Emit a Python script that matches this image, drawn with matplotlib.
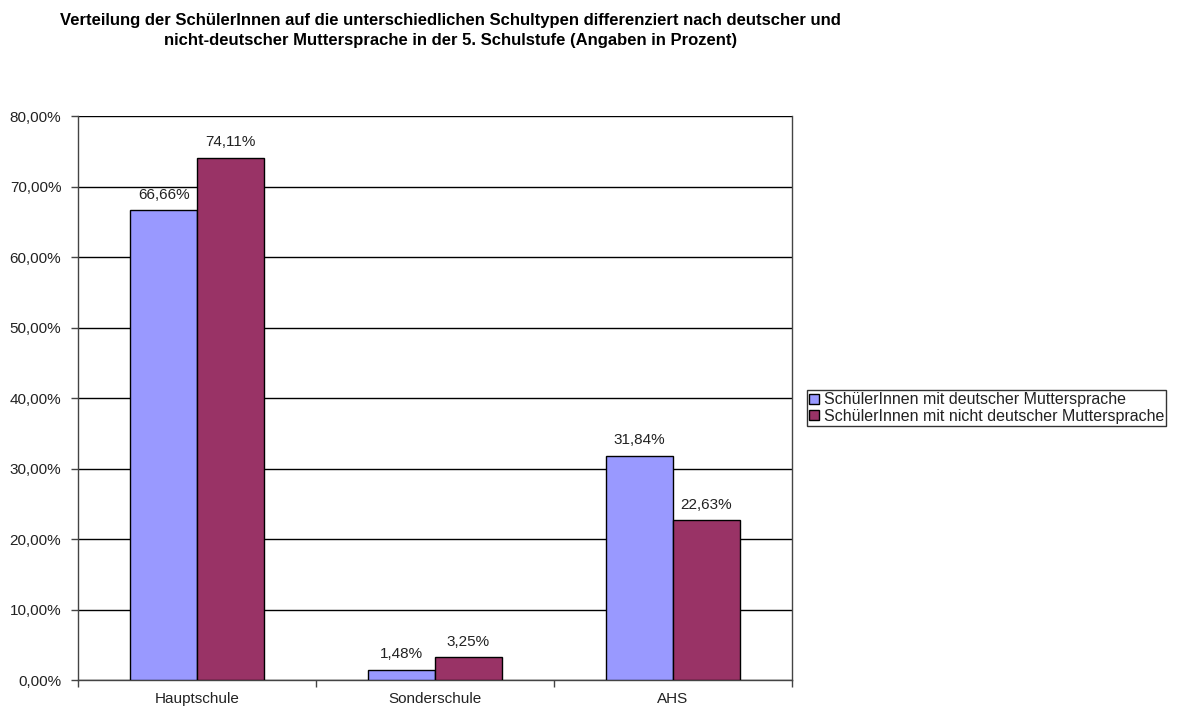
import numpy as np
import matplotlib
matplotlib.use("Agg")
import matplotlib.pyplot as plt
from matplotlib.ticker import FuncFormatter, FixedLocator

plt.rcParams["font.family"] = ["Liberation Sans", "DejaVu Sans"]

categories = ["Hauptschule", "Sonderschule", "AHS"]
series_names = ["SchülerInnen mit deutscher Muttersprache",
                "SchülerInnen mit nicht deutscher Muttersprache"]
deutsch = [66.66, 1.48, 31.84]
nicht_deutsch = [74.11, 3.25, 22.63]
colors = ["#9999ff", "#993366"]

title = ("Verteilung der SchülerInnen auf die unterschiedlichen Schultypen differenziert nach deutscher und\n"
         "nicht-deutscher Muttersprache in der 5. Schulstufe (Angaben in Prozent)")

FS = 11
TXT = "#222222"


def pct(v):
    return f"{v:.2f}%".replace(".", ",")


fig = plt.figure(figsize=(11.77, 7.11), dpi=100)
ax = fig.add_axes([0.0663, 0.0436, 0.6065, 0.7932])

x = np.arange(len(categories))
w = 0.28
for i, (vals, col) in enumerate(zip([deutsch, nicht_deutsch], colors)):
    pos = x + (i - 0.5) * w
    ax.bar(pos, vals, w, color=col, edgecolor="black", linewidth=1.0,
           label=series_names[i], zorder=3)
    for px, v in zip(pos, vals):
        ax.annotate(pct(v), (px, v), xytext=(0, 6), textcoords="offset points",
                    ha="center", va="bottom", fontsize=FS, color=TXT)

ax.set_xlim(-0.5, 2.5)
ax.set_ylim(0, 80)
ax.set_yticks(np.arange(0, 81, 10))
ax.yaxis.set_major_formatter(FuncFormatter(lambda v, _: pct(v)))
ax.yaxis.grid(True, color="black", linewidth=1.0, zorder=0)
ax.set_axisbelow(True)

# category names centred under groups, tick marks on the group boundaries
ax.set_xticks(x)
ax.set_xticklabels(categories, fontsize=FS, color=TXT)
ax.tick_params(axis="x", which="major", length=0, pad=8.5)
ax.xaxis.set_minor_locator(FixedLocator([-0.5, 0.5, 1.5, 2.5]))
ax.tick_params(axis="x", which="minor", length=5, width=1.0, color="#444444")
ax.tick_params(axis="y", length=5, width=1.0, labelsize=FS, labelcolor=TXT,
               color="#444444", pad=7)

for s in ax.spines.values():
    s.set_color("#444444")
    s.set_linewidth(1.0)
ax.spines["top"].set_visible(False)

fig.text(0.383, 0.982, title, ha="center", va="top", fontsize=12,
         fontweight="bold", linespacing=1.45)

leg = fig.legend(loc="center left", bbox_to_anchor=(0.6856, 0.426), fontsize=11.5,
                 frameon=True, fancybox=False, edgecolor="black",
                 handlelength=0.6, handleheight=0.6, handletextpad=0.3,
                 borderpad=0.15, labelspacing=0.1, borderaxespad=0)
leg.get_frame().set_linewidth(1.0)
for t in leg.get_texts():
    t.set_color(TXT)

fig.savefig("out.png", dpi=100)
